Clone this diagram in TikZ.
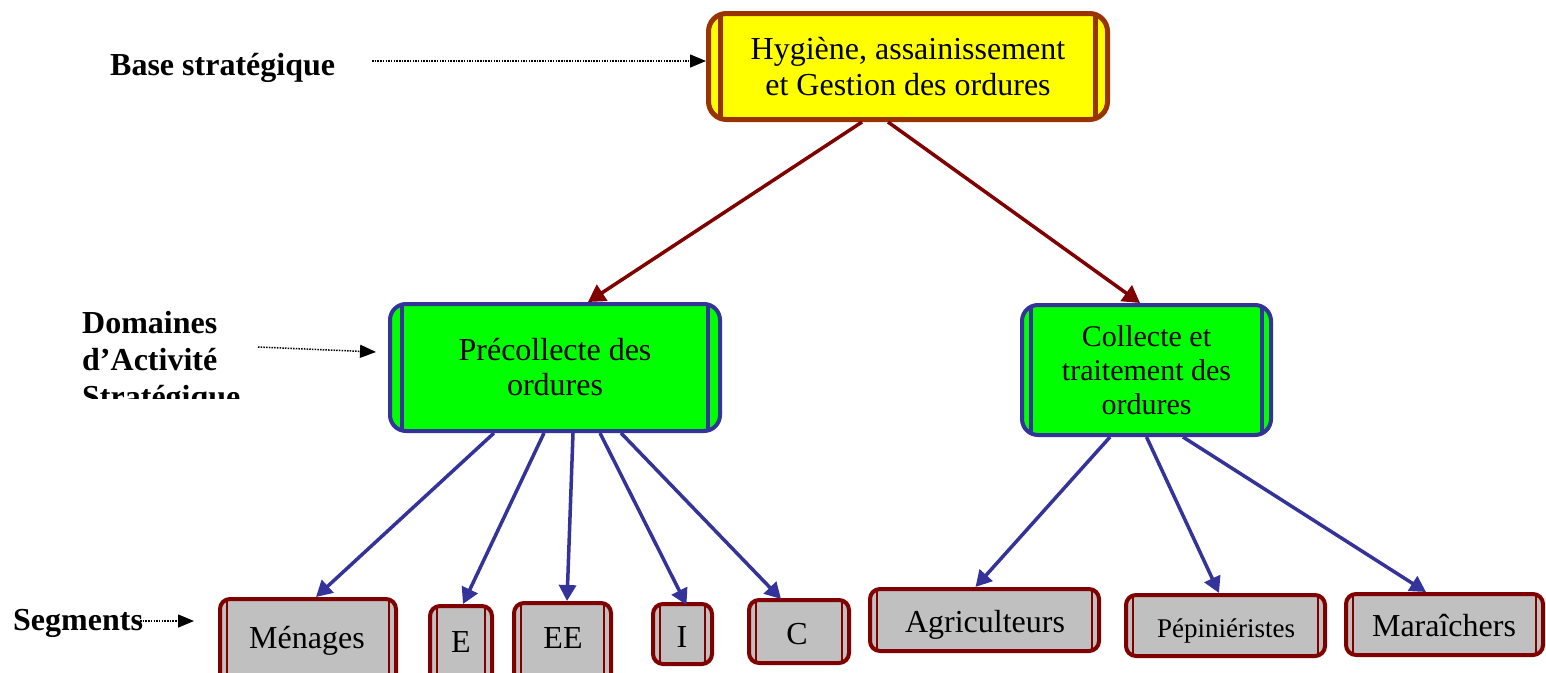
\documentclass[tikz,border=0pt]{standalone}
\usepackage{fontspec}
\setmainfont{Liberation Serif}
\usetikzlibrary{arrows.meta}
\definecolor{brn}{HTML}{993300}
\definecolor{dred}{HTML}{800000}
\definecolor{navy}{HTML}{333399}
\definecolor{lime}{HTML}{00FF00}
\definecolor{gry}{HTML}{C0C0C0}
\definecolor{ylw}{HTML}{FFFF00}
\tikzset{
  inner lines/.style n args={3}{path picture={
    \draw[#3, line width=#2]
      ([xshift=#1]path picture bounding box.north west) -- ([xshift=#1]path picture bounding box.south west)
      ([xshift=-#1]path picture bounding box.north east) -- ([xshift=-#1]path picture bounding box.south east);}},
  topbox/.style={draw=brn, line width=5pt, fill=ylw, rounded corners=18pt, inner lines={12pt}{4.5pt}{brn},
    align=center, inner sep=0pt, font=\fontsize{32}{36}\selectfont},
  dasbox/.style={draw=navy, line width=4pt, fill=lime, rounded corners=16pt,
    align=center, inner sep=0pt, font=\fontsize{32}{35}\selectfont},
  segbox/.style={draw=dred, line width=4pt, fill=gry, rounded corners=10pt, inner lines={7pt}{1.8pt}{dred}, inner sep=0pt},
  segtxt/.style={anchor=base, inner sep=0pt, font=\fontsize{32}{35}\selectfont},
  lbl/.style={inner sep=0pt, font=\fontsize{32}{37}\selectfont\bfseries},
  redarr/.style={draw=dred, line width=3.5pt, -{Triangle[length=17pt,width=19pt]}},
  bluarr/.style={draw=navy, line width=3.5pt, -{Triangle[length=16pt,width=17pt]}},
  dotarr/.style={draw=black, line width=1.5pt, dash pattern=on 1.5pt off 1.2pt, -{Triangle[length=16pt,width=13pt]}},
}
\begin{document}
\begin{tikzpicture}[x=1pt,y=-1pt]
\clip (0,0) rectangle (1546,672);
\fill[white] (0,0) rectangle (1546,672);

% top
\node[topbox, minimum width=399pt, minimum height=106pt] (hyg) at (908,66.5) {Hygiène, assainissement\\et Gestion des ordures};

% DAS
\node[dasbox, inner lines={12pt}{3.5pt}{navy}, minimum width=330pt, minimum height=127pt] (pre) at (555,367.5) {Précollecte des\\ordures};
\node[dasbox, inner lines={9pt}{3.5pt}{navy}, minimum width=249pt, minimum height=130pt, font=\fontsize{30}{34}\selectfont] (col) at (1146.5,370) {Collecte et\\traitement des\\ordures};

% segments
\node[segbox, minimum width=176pt, minimum height=99pt] (men) at (308,648.5) {};
\node[segbox, minimum width=62pt, minimum height=94pt] (e) at (461,653) {};
\node[segbox, minimum width=97pt, minimum height=97pt] (ee) at (562.5,651.5) {};
\node[segbox, minimum width=59pt, minimum height=60pt] (i) at (682.5,634) {};
\node[segbox, minimum width=100pt, minimum height=63pt] (c) at (799,631.5) {};
\node[segbox, minimum width=229pt, minimum height=62pt] (agr) at (984.5,620) {};
\node[segbox, minimum width=199pt, minimum height=61pt] (pep) at (1225.5,625.5) {};
\node[segbox, minimum width=197pt, minimum height=61pt] (mar) at (1444.5,624.5) {};

\node[segtxt] (menT) at (307,648) {Ménages};
\node[segtxt] (eT) at (461,652) {E};
\node[segtxt] (eeT) at (563,648) {EE};
\node[segtxt] (iT) at (682,647) {I};
\node[segtxt] (cT) at (797,644) {C};
\node[segtxt] (agrT) at (985,632) {Agriculteurs};
\node[segtxt, font=\fontsize{27}{30}\selectfont] (pepT) at (1226,637) {Pépiniéristes};
\node[segtxt] (marT) at (1444,636) {Maraîchers};

% labels
\node[lbl, anchor=base west] (bs) at (110,75) {Base stratégique};
\begin{scope}
\clip (60,290) rectangle (260,398);
\node[lbl, anchor=north west, align=left] (das) at (82,311) {Domaines\\d’Activité\\Stratégique};
\end{scope}
\node[lbl, anchor=base west] (seg) at (13,630) {Segments};

% dotted arrows
\coordinate (bsA) at (372,61);
\draw[dotarr] (bsA) -- ([yshift=5.5pt]hyg.west);
\coordinate (dasA) at (258,347);
\coordinate (dasB) at (376,352);
\draw[dotarr] (dasA) -- (dasB);
\coordinate (segA) at (140,621);
\coordinate (segB) at (194,621);
\draw[dotarr] (segA) -- (segB);

% red arrows
\draw[redarr] ([xshift=-46pt]hyg.south) -- ([xshift=33pt]pre.north);
\draw[redarr] ([xshift=-20pt]hyg.south) -- ([xshift=-6.5pt]col.north);

% blue arrows
\draw[bluarr] ([xshift=-61pt]pre.south) -- ([xshift=8pt]men.north);
\draw[bluarr] ([xshift=-11pt]pre.south) -- ([xshift=2pt]e.north);
\draw[bluarr] ([xshift=18pt]pre.south) -- ([xshift=4.5pt]ee.north);
\draw[bluarr] ([xshift=45pt]pre.south) -- ([xshift=4pt,yshift=-3pt]i.north);
\draw[bluarr] ([xshift=66pt]pre.south) -- ([xshift=-18pt,yshift=-1pt]c.north);
\draw[bluarr] ([xshift=-36.5pt]col.south) -- ([xshift=-9pt]agr.north);
\draw[bluarr] ([xshift=0pt]col.south) -- ([xshift=-6.5pt]pep.north);
\draw[bluarr] ([xshift=36.5pt]col.south) -- ([xshift=-18.5pt]mar.north);
\end{tikzpicture}
\end{document}
